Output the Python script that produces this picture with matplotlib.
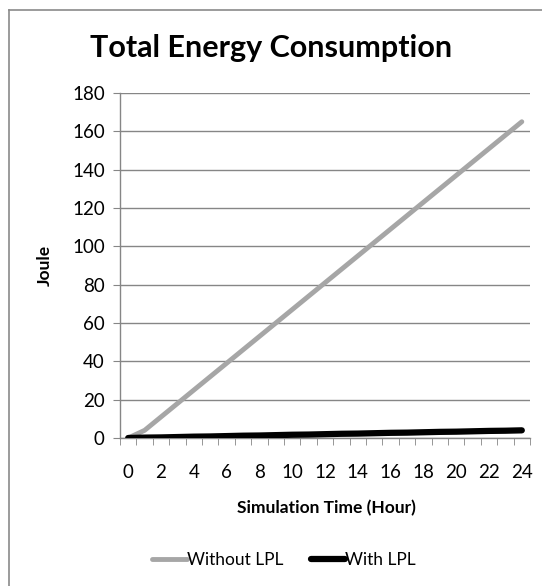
import matplotlib
matplotlib.use("Agg")
import matplotlib.pyplot as plt
from matplotlib.lines import Line2D

hours = list(range(0, 25))
without_lpl = [0, 4, 11, 18, 25, 32, 39, 46, 53, 60, 67, 74, 81, 88, 95, 102,
               109, 116, 123, 130, 137, 144, 151, 158, 165]
with_lpl = [0, 0.2, 0.3, 0.5, 0.7, 0.8, 1.0, 1.2, 1.3, 1.5, 1.7, 1.8, 2.0, 2.2,
            2.3, 2.5, 2.7, 2.8, 3.0, 3.2, 3.3, 3.5, 3.7, 3.8, 4.0]
x_ticks = list(range(0, 25, 2))
y_ticks = list(range(0, 181, 20))

plt.rcParams['font.family'] = ['Lato', 'DejaVu Sans']

W, H = 542, 586
fig = plt.figure(figsize=(W / 100, H / 100), dpi=100)
ax = fig.add_axes([120 / W, 1 - 438 / H, 410 / W, (438 - 93) / H])

axis_c = '#868686'
ax.plot(hours, without_lpl, color='#a6a6a6', lw=3.5, label='Without LPL',
        solid_capstyle='round', zorder=3)
ax.plot(hours, with_lpl, color='#000000', lw=4.5, label='With LPL',
        solid_capstyle='round', zorder=4)

ax.set_xlim(-0.5, 24.5)
ax.set_ylim(0, 180)
ax.set_yticks(y_ticks)
ax.set_xticks(x_ticks)
ax.set_xticks([i - 0.5 for i in range(26)], minor=True)
ax.tick_params(axis='x', which='major', length=0, pad=19, labelsize=13.5)
ax.tick_params(axis='x', which='minor', length=5, color=axis_c, direction='out')
ax.tick_params(axis='y', length=5, color=axis_c, direction='out', pad=6, labelsize=13.5)
ax.grid(axis='y', color=axis_c, lw=1)
ax.set_axisbelow(True)
for s in ['top', 'right']:
    ax.spines[s].set_visible(False)
for s in ['left', 'bottom']:
    ax.spines[s].set_color(axis_c)
    ax.spines[s].set_linewidth(1)

fig.text(271 / W, 1 - 48 / H, 'Total Energy Consumption', ha='center', va='center',
         fontsize=22, fontweight='bold', color='#000000')
fig.text(45 / W, 1 - 265 / H, 'Joule', ha='center', va='center', rotation=90,
         fontsize=12.5, fontweight='bold')
fig.text(326 / W, 1 - 508 / H, 'Simulation Time (Hour)', ha='center', va='center',
         fontsize=12.5, fontweight='bold')

fig.legend(loc='center', bbox_to_anchor=(284 / W, 1 - 560 / H), ncol=2, frameon=False,
           fontsize=12.5, handlelength=2.0, handletextpad=0.0, columnspacing=1.6)

# outer chart frame (cropped at right/bottom)
fig.add_artist(Line2D([8.5 / W, 8.5 / W], [0, 1 - 10 / H], color='#8a8a8a', lw=1.2))
fig.add_artist(Line2D([8.5 / W, 1], [1 - 10 / H, 1 - 10 / H], color='#8a8a8a', lw=1.2))

fig.savefig('out.png', dpi=100)
